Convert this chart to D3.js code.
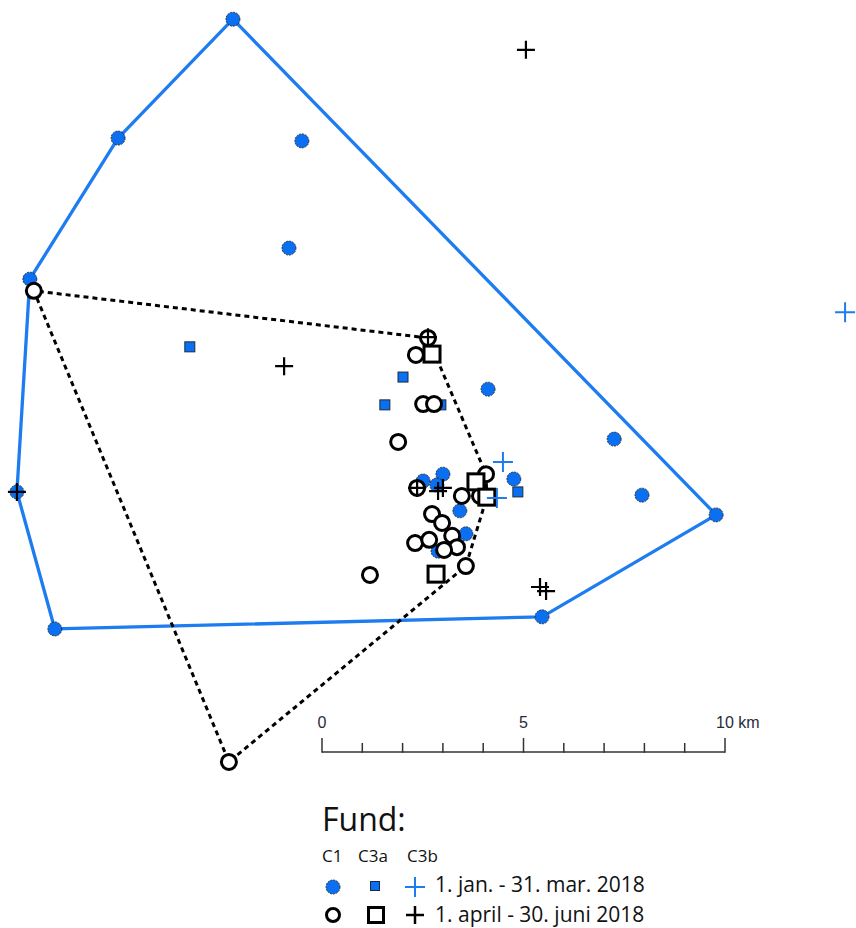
<!DOCTYPE html>
<html>
<head>
<meta charset="utf-8">
<script src="https://d3js.org/d3.v7.min.js"></script>
<style>
  html, body { margin: 0; padding: 0; background: #fff; }
  svg { display: block; }
</style>
</head>
<body>
<svg id="map" width="856" height="928"></svg>
<script>
// Find positions in km, east/north of the scale-bar origin.
// Period 1: 1. jan. - 31. mar. 2018
const c1Q1 = [
  [-2.21, 18.01], [-5.06, 15.06], [-7.25, 11.56], [-7.57, 6.28], [-6.63, 2.88],
  [5.46, 3.18], [9.78, 5.71], [-0.50, 14.99], [-0.82, 12.33], [4.12, 8.83],
  [7.25, 7.59], [7.94, 6.20], [4.76, 6.60], [3.00, 6.72], [2.51, 6.55],
  [2.85, 6.45], [3.42, 5.81], [3.57, 5.24], [2.88, 4.81]
];
const c3aQ1 = [
  [-3.28, 9.88], [2.01, 9.13], [1.56, 8.44], [2.95, 8.44], [4.86, 6.28], [2.73, 9.68]
];
const c3bQ1 = [
  [12.98, 10.74], [4.49, 7.02], [4.34, 6.13]
];
// Period 2: 1. april - 30. juni 2018
const c1Q2 = [
  [-7.15, 11.27], [2.63, 10.10], [2.33, 9.68], [2.51, 8.46], [2.78, 8.46],
  [1.89, 7.52], [-2.31, -0.42], [1.19, 4.22], [2.36, 6.38], [3.47, 6.18],
  [3.92, 6.18], [4.07, 6.72], [2.73, 5.73], [2.98, 5.51], [2.31, 5.01],
  [2.66, 5.09], [3.23, 5.19], [3.35, 4.91], [3.03, 4.84], [3.57, 4.44]
];
const c3aQ2 = [
  [2.73, 9.70], [3.82, 6.53], [4.09, 6.15], [2.83, 4.24]
];
const c3bQ2 = [
  [5.06, 17.25], [-0.94, 9.40], [-7.57, 6.28], [2.36, 6.38], [3.00, 6.38],
  [2.88, 6.30], [5.41, 3.92], [5.56, 3.82], [2.63, 10.12]
];
// Scale bar
const scaleKm = d3.range(0, 11);
const scaleLabels = [0, 5, 10];
const scaleUnit = "km";
// Legend
const legendTitle = "Fund:";
const legendTypes = ["C1", "C3a", "C3b"];
const legendPeriods = ["1. jan. - 31. mar. 2018", "1. april - 30. juni 2018"];

const BLUE = "#0b6ff2";
const BLUE_LINE = "#1d7cf0";

const svg = d3.select("#map");
const x = d3.scaleLinear().domain([0, 10]).range([322, 725]);
const y = d3.scaleLinear().domain([0, 10]).range([745, 342]);
const pt = d => [x(d[0]), y(d[1])];

const gHull = svg.append("g");
const gPts = svg.append("g");

// Ranges: convex hulls of the finds per period
const hull1 = d3.polygonHull(c1Q1.map(pt));
const hull2 = d3.polygonHull(c1Q2.concat(c3aQ2).map(pt));

gHull.append("path")
  .attr("d", "M" + hull1.join("L") + "Z")
  .attr("fill", "none").attr("stroke", BLUE_LINE)
  .attr("stroke-width", 3.3).attr("stroke-linejoin", "round");

gHull.append("path")
  .attr("d", "M" + hull2.join("L") + "Z")
  .attr("fill", "none").attr("stroke", "#000")
  .attr("stroke-width", 3).attr("stroke-dasharray", "5,4");

// Symbol helpers
function blueCircle(g, cx, cy, r = 7) {
  g.append("circle").attr("cx", cx).attr("cy", cy).attr("r", r)
    .attr("fill", BLUE).attr("stroke", "#1b1b1b").attr("stroke-width", 0.8)
    .attr("stroke-dasharray", "2,1");
}
function blueSquare(g, cx, cy, s = 10) {
  g.append("rect").attr("x", cx - s / 2).attr("y", cy - s / 2)
    .attr("width", s).attr("height", s)
    .attr("fill", BLUE).attr("stroke", "#1b2a40").attr("stroke-width", 1);
}
function cross(g, cx, cy, color, s, w) {
  g.append("path")
    .attr("d", `M${cx - s / 2},${cy}H${cx + s / 2}M${cx},${cy - s / 2}V${cy + s / 2}`)
    .attr("stroke", color).attr("stroke-width", w).attr("fill", "none");
}
function blackCircle(g, cx, cy, r = 7.5) {
  g.append("circle").attr("cx", cx).attr("cy", cy).attr("r", r)
    .attr("fill", "#fff")
    .attr("stroke", "#000").attr("stroke-width", 3);
}
function blackSquare(g, cx, cy, s = 16) {
  g.append("rect").attr("x", cx - s / 2).attr("y", cy - s / 2)
    .attr("width", s).attr("height", s)
    .attr("fill", "#fff")
    .attr("stroke", "#000").attr("stroke-width", 3);
}

c1Q1.forEach(d => { const [a, b] = pt(d); blueCircle(gPts, a, b); });
c3aQ1.forEach(d => { const [a, b] = pt(d); blueSquare(gPts, a, b); });
c1Q2.forEach(d => { const [a, b] = pt(d); blackCircle(gPts, a, b); });
c3aQ2.forEach(d => { const [a, b] = pt(d); blackSquare(gPts, a, b); });
c3bQ1.forEach(d => { const [a, b] = pt(d); cross(gPts, a, b, BLUE_LINE, 20, 2); });
c3bQ2.forEach(d => { const [a, b] = pt(d); cross(gPts, a, b, "#000", 18, 2.2); });

// Scale bar
const gScale = svg.append("g");
const barY = 752;
gScale.append("line")
  .attr("x1", x(0)).attr("x2", x(10)).attr("y1", barY).attr("y2", barY)
  .attr("stroke", "#333").attr("stroke-width", 1.5);
gScale.selectAll("line.tick").data(scaleKm).join("line")
  .attr("class", "tick")
  .attr("x1", d => x(d)).attr("x2", d => x(d))
  .attr("y1", d => d % 5 === 0 ? barY - 14 : barY - 9).attr("y2", barY + 0.75)
  .attr("stroke", "#333").attr("stroke-width", 1.5);
gScale.selectAll("text").data(scaleLabels).join("text")
  .attr("x", d => x(d)).attr("y", 728)
  .attr("text-anchor", d => d === 10 ? "start" : "middle")
  .attr("dx", d => d === 10 ? -9 : 0)
  .attr("font-family", "Liberation Sans, Arial, sans-serif")
  .attr("font-size", 16).attr("fill", "#2a2a3a")
  .text(d => d === 10 ? `${d} ${scaleUnit}` : d);

// Legend
const gLeg = svg.append("g")
  .attr("font-family", "'Open Sans', 'Noto Sans', sans-serif").attr("fill", "#111");
gLeg.append("text").attr("x", 322).attr("y", 831)
  .attr("font-size", 32).text(legendTitle);
gLeg.selectAll("text.type").data(legendTypes).join("text")
  .attr("class", "type")
  .attr("x", (d, i) => [322, 358, 407][i]).attr("y", 862)
  .attr("font-size", 17).text(d => d);
const symX = [333, 375, 415];
const rowY = [887, 915];
blueCircle(gLeg, symX[0], rowY[0], 7);
blueSquare(gLeg, symX[1], rowY[0] - 1, 9);
cross(gLeg, symX[2], rowY[0], BLUE_LINE, 20, 2);
blackCircle(gLeg, symX[0], rowY[1], 6.5);
blackSquare(gLeg, symX[1] + 1, rowY[1], 15);
cross(gLeg, symX[2], rowY[1], "#000", 18, 2.5);
gLeg.selectAll("text.period").data(legendPeriods).join("text")
  .attr("class", "period")
  .attr("x", 435).attr("y", (d, i) => [892, 922][i])
  .attr("font-size", 21).text(d => d);
</script>
</body>
</html>
